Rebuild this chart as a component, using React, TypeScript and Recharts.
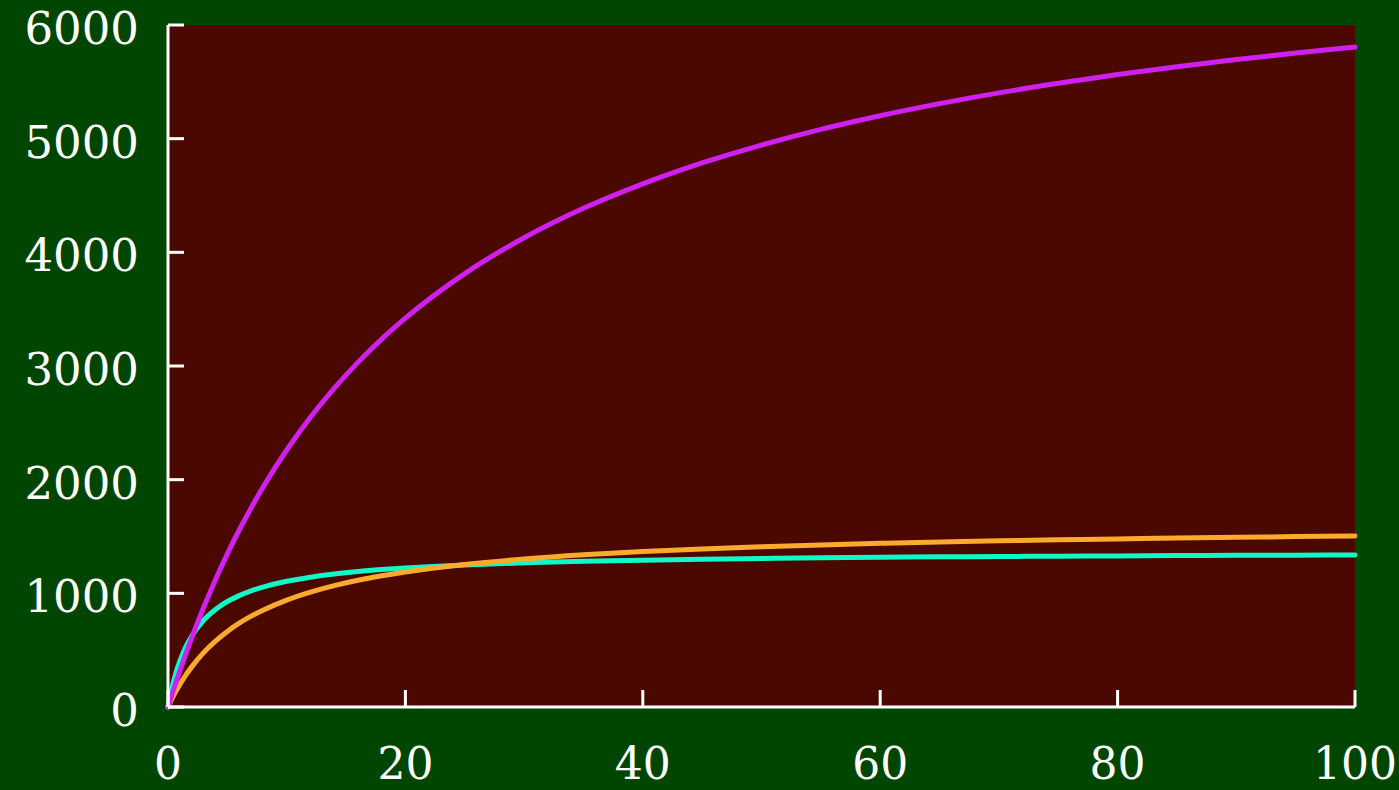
import { LineChart, Line, XAxis, YAxis, CartesianGrid } from 'recharts'

const X_VALUES = [0, 0.5, 1, 1.5, 2, 3, 4, 5, 6, 7, 8, 10, 12, 14, 16, 18, 20, 25, 30, 35, 40, 45, 50, 55, 60, 65, 70, 75, 80, 85, 90, 95, 100]
const MAGENTA = [0, 163, 318, 467, 609, 875, 1120, 1347, 1557, 1751, 1933, 2261, 2549, 2804, 3032, 3237, 3421, 3813, 4128, 4387, 4603, 4787, 4944, 5082, 5202, 5308, 5403, 5487, 5564, 5633, 5696, 5753, 5806]
const ORANGE = [0, 106, 198, 280, 353, 478, 580, 665, 737, 799, 852, 941, 1011, 1068, 1115, 1154, 1188, 1254, 1302, 1339, 1368, 1391, 1410, 1426, 1440, 1452, 1462, 1471, 1479, 1487, 1493, 1499, 1504]
const CYAN = [0, 238, 405, 529, 625, 763, 858, 928, 980, 1022, 1055, 1106, 1142, 1170, 1192, 1209, 1223, 1250, 1268, 1282, 1292, 1300, 1307, 1312, 1317, 1321, 1324, 1327, 1329, 1332, 1334, 1336, 1337]
const X_TICKS = [0, 20, 40, 60, 80, 100]
const Y_TICKS = [0, 1000, 2000, 3000, 4000, 5000, 6000]

const data = X_VALUES.map((x, i) => ({ x, magenta: MAGENTA[i], orange: ORANGE[i], cyan: CYAN[i] }))

const FONT = '"DejaVu Serif", serif'

// ticks point inward, so draw line + label ourselves
const YTick = (props: any) => {
    const { x, y, payload } = props
    return (
        <g>
            <line x1={x} x2={x + 16} y1={y} y2={y} stroke="#fff" strokeWidth={3} />
            <text x={x - 29} y={y + 19} textAnchor="end" fill="#fff" fontSize={45} fontFamily={FONT}>{payload.value}</text>
        </g>
    )
}

const XTick = (props: any) => {
    const { x, y, payload } = props
    return (
        <g>
            <line x1={x} x2={x} y1={y} y2={y - 17} stroke="#fff" strokeWidth={3} />
            <text x={x} y={y + 72} textAnchor="middle" fill="#fff" fontSize={44} fontFamily={FONT}>{payload.value}</text>
        </g>
    )
}

export default function App() {
    return (
        <div style={{ position: 'absolute', left: 0, top: 0, width: 1399, height: 790, background: '#004600', overflow: 'hidden' }}>
            <LineChart width={1399} height={790} data={data} margin={{ top: 25, right: 44, bottom: 0, left: 0 }}>
                <CartesianGrid fill="#4a0800" stroke="none" horizontal={false} vertical={false} />
                <XAxis
                    dataKey="x"
                    type="number"
                    domain={[0, 100]}
                    ticks={X_TICKS}
                    height={83}
                    tickSize={0}
                    tickMargin={0}
                    tickLine={false}
                    axisLine={{ stroke: '#fff', strokeWidth: 3 }}
                    tick={<XTick />}
                />
                <YAxis
                    type="number"
                    domain={[0, 6000]}
                    ticks={Y_TICKS}
                    width={168}
                    tickSize={0}
                    tickMargin={0}
                    tickLine={false}
                    axisLine={{ stroke: '#fff', strokeWidth: 3 }}
                    tick={<YTick />}
                />
                <Line type="monotone" dataKey="cyan" stroke="#10f8c8" strokeWidth={5} strokeLinecap="round" dot={false} isAnimationActive={false} />
                <Line type="monotone" dataKey="orange" stroke="#fcaa2c" strokeWidth={5} strokeLinecap="round" dot={false} isAnimationActive={false} />
                <Line type="monotone" dataKey="magenta" stroke="#d020f0" strokeWidth={5} strokeLinecap="round" dot={false} isAnimationActive={false} />
            </LineChart>
        </div>
    )
}
